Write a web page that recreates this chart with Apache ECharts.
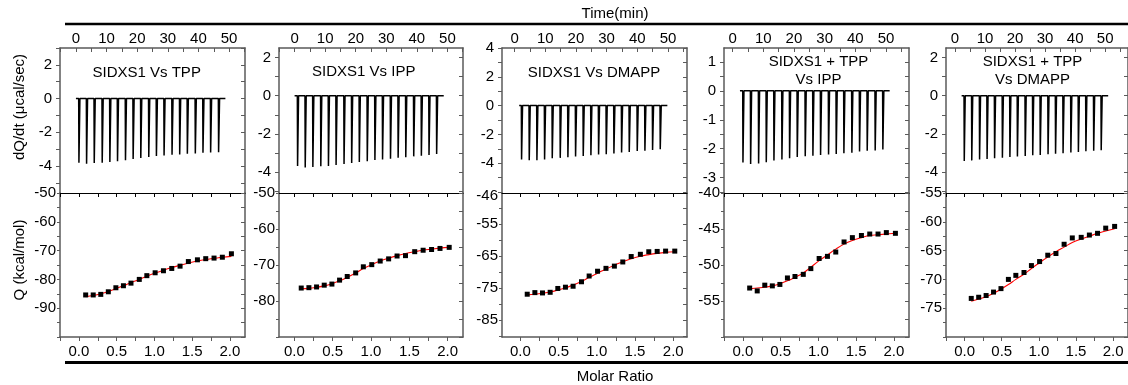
<!DOCTYPE html>
<html><head><meta charset="utf-8">
<script src="https://cdn.jsdelivr.net/npm/echarts@6/dist/echarts.min.js"></script>
<style>html,body{margin:0;padding:0;background:#fff}#c{width:1128px;height:385px}</style>
</head><body><div id="c"></div>
<script>
// ---------------- DATA ----------------
const panelTitles = [['SIDXS1 Vs TPP'], ['SIDXS1 Vs IPP'], ['SIDXS1 Vs DMAPP'], ['SIDXS1 + TPP', 'Vs IPP'], ['SIDXS1 + TPP', 'Vs DMAPP']];
const timeLabels = [0, 10, 20, 30, 40, 50];
const molarLabels = [0, 0.5, 1.0, 1.5, 2.0];
const topYLabels = [[2, 0, -2, -4], [2, 0, -2, -4], [4, 2, 0, -2, -4], [1, 0, -1, -2, -3], [2, 0, -2, -4]];
const bottomYLabels = [[-50, -60, -70, -80, -90], [-50, -60, -70, -80], [-46, -55, -65, -75, -85], [-40, -45, -50, -55], [-55, -60, -65, -70, -75]];

const molarRatio = [0.09, 0.19, 0.29, 0.39, 0.49, 0.59, 0.69, 0.80, 0.90, 1.01, 1.12, 1.23, 1.34, 1.45, 1.57, 1.68, 1.79, 1.90, 2.02];

const injTimes1 = [0.9, 3.4, 5.9, 8.5, 11.0, 13.5, 16.1, 18.6, 21.1, 23.7, 26.2, 28.7, 31.3, 33.8, 36.3, 38.9, 41.4, 43.9, 46.5];
const injTimes2 = [0.9, 3.4, 5.9, 8.5, 11.0, 13.5, 16.1, 18.6, 21.1, 23.7, 26.2, 28.7, 31.3, 33.8, 36.3, 38.9, 41.4, 43.9, 46.4];
const injTimes3 = [2.2, 4.7, 7.2, 9.7, 12.2, 14.8, 17.3, 19.8, 22.3, 24.8, 27.3, 29.8, 32.3, 34.8, 37.3, 39.9, 42.4, 44.9, 47.4];
const injTimes4 = [3.3, 5.8, 8.4, 10.9, 13.4, 16.0, 18.5, 21.0, 23.6, 26.1, 28.6, 31.2, 33.7, 36.2, 38.8, 41.3, 43.8, 46.4, 48.9];
const injTimes5 = [3.0, 5.5, 8.1, 10.6, 13.1, 15.7, 18.2, 20.7, 23.3, 25.8, 28.3, 30.9, 33.4, 35.9, 38.5, 41.0, 43.5, 46.1, 48.6];
const baseline1 = [0, 48.8];
const baseline2 = [0, 48.8];
const baseline3 = [1.5, 49.8];
const baseline4 = [2.4, 51.2];
const baseline5 = [2.2, 51.0];

const peaks1 = [-3.80, -3.86, -3.82, -3.80, -3.76, -3.71, -3.65, -3.59, -3.53, -3.47, -3.41, -3.37, -3.33, -3.31, -3.27, -3.25, -3.21, -3.20, -3.18];
const peaks2 = [-3.69, -3.76, -3.74, -3.70, -3.69, -3.63, -3.58, -3.53, -3.48, -3.43, -3.37, -3.34, -3.30, -3.25, -3.22, -3.18, -3.15, -3.11, -3.06];
const peaks3 = [-3.74, -3.79, -3.79, -3.74, -3.66, -3.63, -3.59, -3.54, -3.50, -3.45, -3.40, -3.38, -3.33, -3.26, -3.22, -3.15, -3.13, -3.08, -3.03];
const peaks4 = [-2.48, -2.53, -2.51, -2.47, -2.41, -2.37, -2.33, -2.29, -2.26, -2.24, -2.22, -2.20, -2.18, -2.16, -2.14, -2.10, -2.07, -2.06, -2.03];
const peaks5 = [-3.42, -3.39, -3.35, -3.32, -3.28, -3.25, -3.21, -3.19, -3.16, -3.12, -3.11, -3.07, -3.04, -3.02, -2.98, -2.95, -2.91, -2.89, -2.86];

const heat1 = [-85.4, -85.4, -85.2, -84.3, -82.9, -82.2, -81.3, -80.0, -78.7, -77.7, -77.0, -76.2, -75.4, -73.8, -73.2, -72.8, -72.6, -72.3, -71.1];
const heat2 = [-76.4, -76.3, -76.1, -75.6, -75.3, -74.2, -73.2, -72.2, -70.5, -69.9, -68.9, -68.3, -67.5, -67.4, -66.3, -65.9, -65.7, -65.4, -65.1];
const heat3 = [-76.9, -76.4, -76.5, -76.3, -75.1, -74.7, -74.4, -73.0, -71.2, -69.7, -68.8, -68.1, -66.8, -65.1, -64.4, -63.6, -63.5, -63.4, -63.4];
const heat4 = [-53.2, -53.6, -52.8, -52.9, -52.7, -51.8, -51.6, -51.3, -50.5, -49.1, -48.8, -48.2, -46.8, -46.2, -45.9, -45.7, -45.7, -45.5, -45.6];
const heat5 = [-73.3, -73.1, -72.8, -72.2, -71.6, -70.0, -69.3, -68.8, -67.6, -66.9, -65.8, -65.5, -63.9, -62.8, -62.7, -62.3, -62.0, -61.1, -60.8];

const fit1 = [-86.0, -85.6, -85.0, -84.2, -83.2, -82.2, -81.1, -80.0, -78.9, -77.8, -76.8, -75.9, -75.1, -74.3, -73.6, -73.1, -72.7, -72.3, -72.0];
const fit2 = [-76.6, -76.5, -76.2, -75.8, -75.2, -74.4, -73.4, -72.2, -71.0, -69.9, -68.9, -68.1, -67.4, -66.8, -66.3, -65.9, -65.6, -65.3, -65.1];
const fit3 = [-77.1, -76.9, -76.6, -76.2, -75.6, -74.9, -74.0, -72.9, -71.6, -70.3, -69.0, -67.8, -66.7, -65.8, -65.0, -64.5, -64.1, -63.8, -63.6];
const fit4 = [-53.3, -53.2, -53.1, -52.9, -52.6, -52.2, -51.7, -51.1, -50.3, -49.4, -48.6, -47.8, -47.1, -46.6, -46.2, -45.9, -45.8, -45.7, -45.6];
const fit5 = [-73.8, -73.4, -73.0, -72.4, -71.7, -70.9, -70.0, -69.1, -68.1, -67.1, -66.1, -65.2, -64.4, -63.6, -63.0, -62.5, -62.0, -61.6, -61.2];

// ---------------- LAYOUT ----------------
const FONT = 'Liberation Sans';
const frameColor = '#5a5a5a';
const layout = [
  { left: 60,  width: 185, tx: [-5.2, 55.2], ty: [-5.6, 3],     tyStep: 1,   mx: [-0.25, 2.2],  qy: [-100, -50],   qyStep: 5,   title: [146.7, 72.5] },
  { left: 279, width: 184, tx: [-5.1, 55.1], ty: [-5.1, 2.5],   tyStep: 1,   mx: [-0.2, 2.2],   qy: [-90, -50],    qyStep: 5,   title: [363.7, 71.7] },
  { left: 502, width: 185, tx: [-4.1, 56.2], ty: [-6.07, 4],    tyStep: 1,   mx: [-0.24, 2.18], qy: [-90.3, -45.2], qyStep: 5,  title: [594, 73] },
  { left: 724, width: 185, tx: [-2.8, 57.5], ty: [-3.53, 1.48], tyStep: 0.5, mx: [-0.25, 2.2],  qy: [-60, -40],    qyStep: 2.5, title: [818.5, 61.7] },
  { left: 946, width: 185, tx: [-3, 57.6],   ty: [-5.1, 2.5],   tyStep: 1,   mx: [-0.25, 2.2],  qy: [-80, -55],    qyStep: 2.5, title: [1032.5, 61.7] }
];
const injTimes = [injTimes1, injTimes2, injTimes3, injTimes4, injTimes5];
const baselines = [baseline1, baseline2, baseline3, baseline4, baseline5];
const peaks = [peaks1, peaks2, peaks3, peaks4, peaks5];
const heats = [heat1, heat2, heat3, heat4, heat5];
const fits = [fit1, fit2, fit3, fit4, fit5];

function stepsIn(min, max, step) {
  const out = [];
  let v = Math.ceil(min / step - 1e-9) * step;
  for (; v <= max + 1e-9; v += step) out.push(+v.toFixed(4));
  return out;
}
const TOP = 48, MID = 193, BOT = 337;

const grids = [], xAxes = [], yAxes = [], series = [], graphics = [];
const lblStyle = { color: '#000', fontSize: 15, fontFamily: FONT };

layout.forEach((L, p) => {
  const gT = grids.length;
  grids.push({ left: L.left, width: L.width, top: TOP, height: MID - TOP });
  const gB = grids.length;
  grids.push({ left: L.left, width: L.width, top: MID, height: BOT - MID });

  const lineS = { show: true, onZero: false, lineStyle: { color: frameColor, width: 1.5 } };
  const tickS = (vals, inside, len) => ({ show: true, inside, length: len, customValues: vals, lineStyle: { color: frameColor, width: 1 } });

  const xT = xAxes.length;
  xAxes.push({ gridIndex: gT, type: 'value', position: 'top', min: L.tx[0], max: L.tx[1], splitLine: { show: false },
    axisLine: lineS, axisTick: tickS(stepsIn(L.tx[0], L.tx[1], 5), true, 4),
    axisLabel: Object.assign({ customValues: timeLabels, margin: 2 }, lblStyle) });
  const yT = yAxes.length;
  yAxes.push({ gridIndex: gT, type: 'value', position: 'left', min: L.ty[0], max: L.ty[1], splitLine: { show: false },
    axisLine: lineS, axisTick: tickS(stepsIn(L.ty[0], L.ty[1], L.tyStep), false, 4),
    axisLabel: Object.assign({ customValues: topYLabels[p], margin: 8 }, lblStyle) });
  yAxes.push({ gridIndex: gT, type: 'value', position: 'right', min: L.ty[0], max: L.ty[1], splitLine: { show: false },
    axisLine: lineS, axisTick: tickS(stepsIn(L.ty[0], L.ty[1], L.tyStep), true, 4), axisLabel: { show: false } });

  const xB = xAxes.length;
  const mTicks = stepsIn(L.mx[0], L.mx[1], 0.25);
  xAxes.push({ gridIndex: gB, type: 'value', position: 'bottom', min: L.mx[0], max: L.mx[1], splitLine: { show: false },
    axisLine: lineS, axisTick: tickS(mTicks, false, 4),
    axisLabel: Object.assign({ customValues: molarLabels, margin: 7, formatter: v => v.toFixed(1) }, lblStyle) });
  xAxes.push({ gridIndex: gB, type: 'value', position: 'top', min: L.mx[0], max: L.mx[1], splitLine: { show: false },
    axisLine: { show: true, onZero: false, lineStyle: { color: '#000', width: 1 } },
    axisTick: { show: true, inside: true, length: 4, customValues: mTicks, lineStyle: { color: '#000' } }, axisLabel: { show: false } });
  const yB = yAxes.length;
  const qTicks = stepsIn(L.qy[0], L.qy[1], L.qyStep);
  yAxes.push({ gridIndex: gB, type: 'value', position: 'left', min: L.qy[0], max: L.qy[1], splitLine: { show: false },
    axisLine: lineS, axisTick: tickS(qTicks, false, 3),
    axisLabel: Object.assign({ customValues: bottomYLabels[p], margin: 4 }, lblStyle) });
  yAxes.push({ gridIndex: gB, type: 'value', position: 'right', min: L.qy[0], max: L.qy[1], splitLine: { show: false },
    axisLine: lineS, axisTick: tickS(qTicks, true, 4), axisLabel: { show: false } });

  // thermogram (raw injection peaks)
  const base = baselines[p];
  const pts = [[base[0], 0]];
  injTimes[p].forEach((t, i) => { pts.push([t, 0], [t + 0.08, peaks[p][i]], [t + 0.4, 0]); });
  pts.push([base[1], 0]);
  series.push({ type: 'line', xAxisIndex: xT, yAxisIndex: yT, data: pts, symbol: 'none', animation: false,
    lineStyle: { color: '#000', width: 1.5 } });
  // fit
  series.push({ type: 'line', xAxisIndex: xB, yAxisIndex: yB, data: molarRatio.map((m, i) => [m, fits[p][i]]),
    symbol: 'none', smooth: 0.4, animation: false, z: 2, lineStyle: { color: '#ff0000', width: 1.1 } });
  // integrated heats
  series.push({ type: 'scatter', xAxisIndex: xB, yAxisIndex: yB, data: molarRatio.map((m, i) => [m, heats[p][i]]),
    symbol: 'rect', symbolSize: 5, animation: false, z: 3, itemStyle: { color: '#000', opacity: 1 } });

  panelTitles[p].forEach((txt, k) => {
    graphics.push({ type: 'text', x: L.title[0], y: L.title[1] + k * 18.5, z: 10,
      style: { text: txt, font: '15px ' + FONT, fill: '#000', align: 'center', verticalAlign: 'middle', textAlign: 'center', textVerticalAlign: 'middle' } });
  });
});

const tStyle = (txt) => ({ text: txt, font: '15px ' + FONT, fill: '#000', align: 'center', verticalAlign: 'middle', textAlign: 'center', textVerticalAlign: 'middle' });
graphics.push(
  { type: 'line', shape: { x1: 65, y1: 24, x2: 1128, y2: 24 }, style: { stroke: '#000', lineWidth: 2.6 } },
  { type: 'line', shape: { x1: 65, y1: 362.5, x2: 1128, y2: 362.5 }, style: { stroke: '#000', lineWidth: 2.8 } },
  { type: 'text', x: 615, y: 14, style: tStyle('Time(min)') },
  { type: 'text', x: 615, y: 377, style: tStyle('Molar Ratio') },
  { type: 'text', x: 20, y: 107, rotation: Math.PI / 2, style: tStyle('dQ/dt (μcal/sec)') },
  { type: 'text', x: 20, y: 260, rotation: Math.PI / 2, style: tStyle('Q (kcal/mol)') }
);

const chart = echarts.init(document.getElementById('c'), null, { renderer: 'canvas' });
chart.setOption({ animation: false, backgroundColor: '#fff', grid: grids, xAxis: xAxes, yAxis: yAxes, series, graphic: graphics });
</script></body></html>
